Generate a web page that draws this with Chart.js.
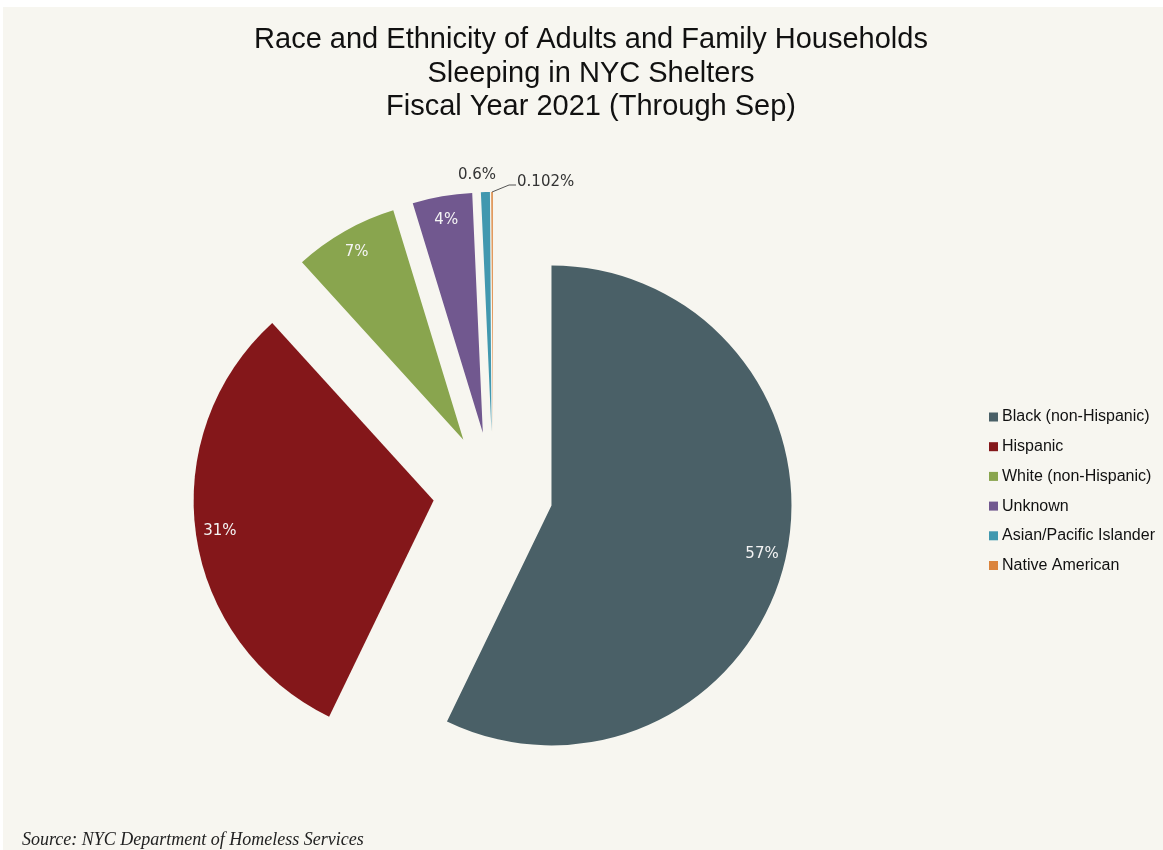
<!DOCTYPE html>
<html>
<head>
<meta charset="utf-8">
<title>Race and Ethnicity of Adults and Family Households Sleeping in NYC Shelters</title>
<script src="https://cdn.jsdelivr.net/npm/chart.js@4.4.1/dist/chart.umd.min.js"></script>
<style>
  html, body { margin: 0; padding: 0; background: #ffffff; }
  canvas { display: block; }
</style>
</head>
<body>
<canvas id="chart" width="1163" height="850"></canvas>
<script>
// Chart text
const titleLines = [
  'Race and Ethnicity of Adults and Family Households',
  'Sleeping in NYC Shelters',
  'Fiscal Year 2021 (Through Sep)'
];
const sourceNote = 'Source: NYC Department of Homeless Services';

// Groups and their share of shelter population (%)
const categories = [
  'Black (non-Hispanic)',
  'Hispanic',
  'White (non-Hispanic)',
  'Unknown',
  'Asian/Pacific Islander',
  'Native American'
];
const shares = [57, 31, 7, 4, 0.6, 0.102];

// Slice colours, same order as the categories
const sliceColors = ['#4A6067', '#84171A', '#89A54E', '#71588F', '#4198AF', '#DB843D'];

// Layout and style settings
const PANEL_BG = '#F7F6F0';
const EXPLODE = 60;          // distance every slice is pulled out from the centre
const PIE_RADIUS = 240;
const INSIDE_LABEL_FRACTION = 0.9;
const SMALL_SLICE = 1;       // slices under this share get their label outside

// Cream panel behind everything
const backdrop = {
  id: 'backdrop',
  beforeDraw(chart) {
    const { ctx, width, height } = chart;
    ctx.save();
    ctx.fillStyle = '#ffffff';
    ctx.fillRect(0, 0, width, height);
    ctx.fillStyle = PANEL_BG;
    ctx.fillRect(3, 7, width - 3, height - 7);
    ctx.restore();
  }
};

// Pull every slice out along its own bisector (exploded pie)
const explodeSlices = {
  id: 'explodeSlices',
  afterDatasetUpdate(chart, args) {
    args.meta.data.forEach(arc => {
      const mid = (arc.startAngle + arc.endAngle) / 2;
      arc.x += Math.cos(mid) * EXPLODE;
      arc.y += Math.sin(mid) * EXPLODE;
    });
  }
};

// Percentage labels, title, legend and source line
const annotations = {
  id: 'annotations',
  afterDatasetsDraw(chart) {
    const { ctx } = chart;
    const arcs = chart.getDatasetMeta(0).data;
    ctx.save();

    arcs.forEach((arc, i) => {
      const mid = (arc.startAngle + arc.endAngle) / 2;
      const dx = Math.cos(mid), dy = Math.sin(mid);
      const r = arc.outerRadius;
      const text = shares[i] + '%';
      ctx.font = '15px "DejaVu Sans", sans-serif';
      ctx.textBaseline = 'middle';
      if (shares[i] >= SMALL_SLICE) {
        ctx.fillStyle = '#F4F4F4';
        ctx.textAlign = 'center';
        const f = INSIDE_LABEL_FRACTION;
        ctx.fillText(text, arc.x + dx * r * f, arc.y + dy * r * f);
      } else if (i === arcs.length - 1) {
        // thinnest slice: label off to the right with a leader line
        const ex = arc.x + dx * r, ey = arc.y + dy * r;
        ctx.strokeStyle = '#555555';
        ctx.lineWidth = 1;
        ctx.beginPath();
        ctx.moveTo(ex, ey);
        ctx.lineTo(ex + 17, ey - 7);
        ctx.lineTo(ex + 24, ey - 7);
        ctx.stroke();
        ctx.fillStyle = '#333333';
        ctx.textAlign = 'left';
        ctx.fillText(text, ex + 25, ey - 10);
      } else {
        ctx.fillStyle = '#333333';
        ctx.textAlign = 'center';
        ctx.fillText(text, arc.x + dx * (r + 17) - 8, arc.y + dy * (r + 17));
      }
    });

    // Title
    ctx.fillStyle = '#111111';
    ctx.textAlign = 'center';
    ctx.textBaseline = 'middle';
    ctx.font = '29px "Liberation Sans", Arial, sans-serif';
    const titleY = [40, 74, 107];
    titleLines.forEach((line, k) => ctx.fillText(line, 591, titleY[k]));

    // Legend
    ctx.textAlign = 'left';
    ctx.font = '16px "Liberation Sans", Arial, sans-serif';
    categories.forEach((name, i) => {
      const y = 417 + i * 29.7;
      ctx.fillStyle = sliceColors[i];
      ctx.fillRect(989, y - 4.5, 9, 9);
      ctx.fillStyle = '#111111';
      ctx.fillText(name, 1002, y);
    });

    // Source
    ctx.font = 'italic 18px "Liberation Serif", "DejaVu Serif", serif';
    ctx.fillStyle = '#222222';
    ctx.textAlign = 'left';
    ctx.textBaseline = 'alphabetic';
    ctx.fillText(sourceNote, 22, 845);

    ctx.restore();
  }
};

new Chart(document.getElementById('chart'), {
  type: 'pie',
  data: {
    labels: categories,
    datasets: [{
      data: shares,
      backgroundColor: sliceColors,
      borderWidth: 0,
      hoverOffset: 0
    }]
  },
  options: {
    responsive: false,
    animation: false,
    events: [],
    radius: PIE_RADIUS,
    layout: { padding: { left: 0, right: 177, top: 134, bottom: 0 } },
    plugins: {
      legend: { display: false },
      title: { display: false },
      tooltip: { enabled: false }
    }
  },
  plugins: [backdrop, explodeSlices, annotations]
});
</script>
</body>
</html>
